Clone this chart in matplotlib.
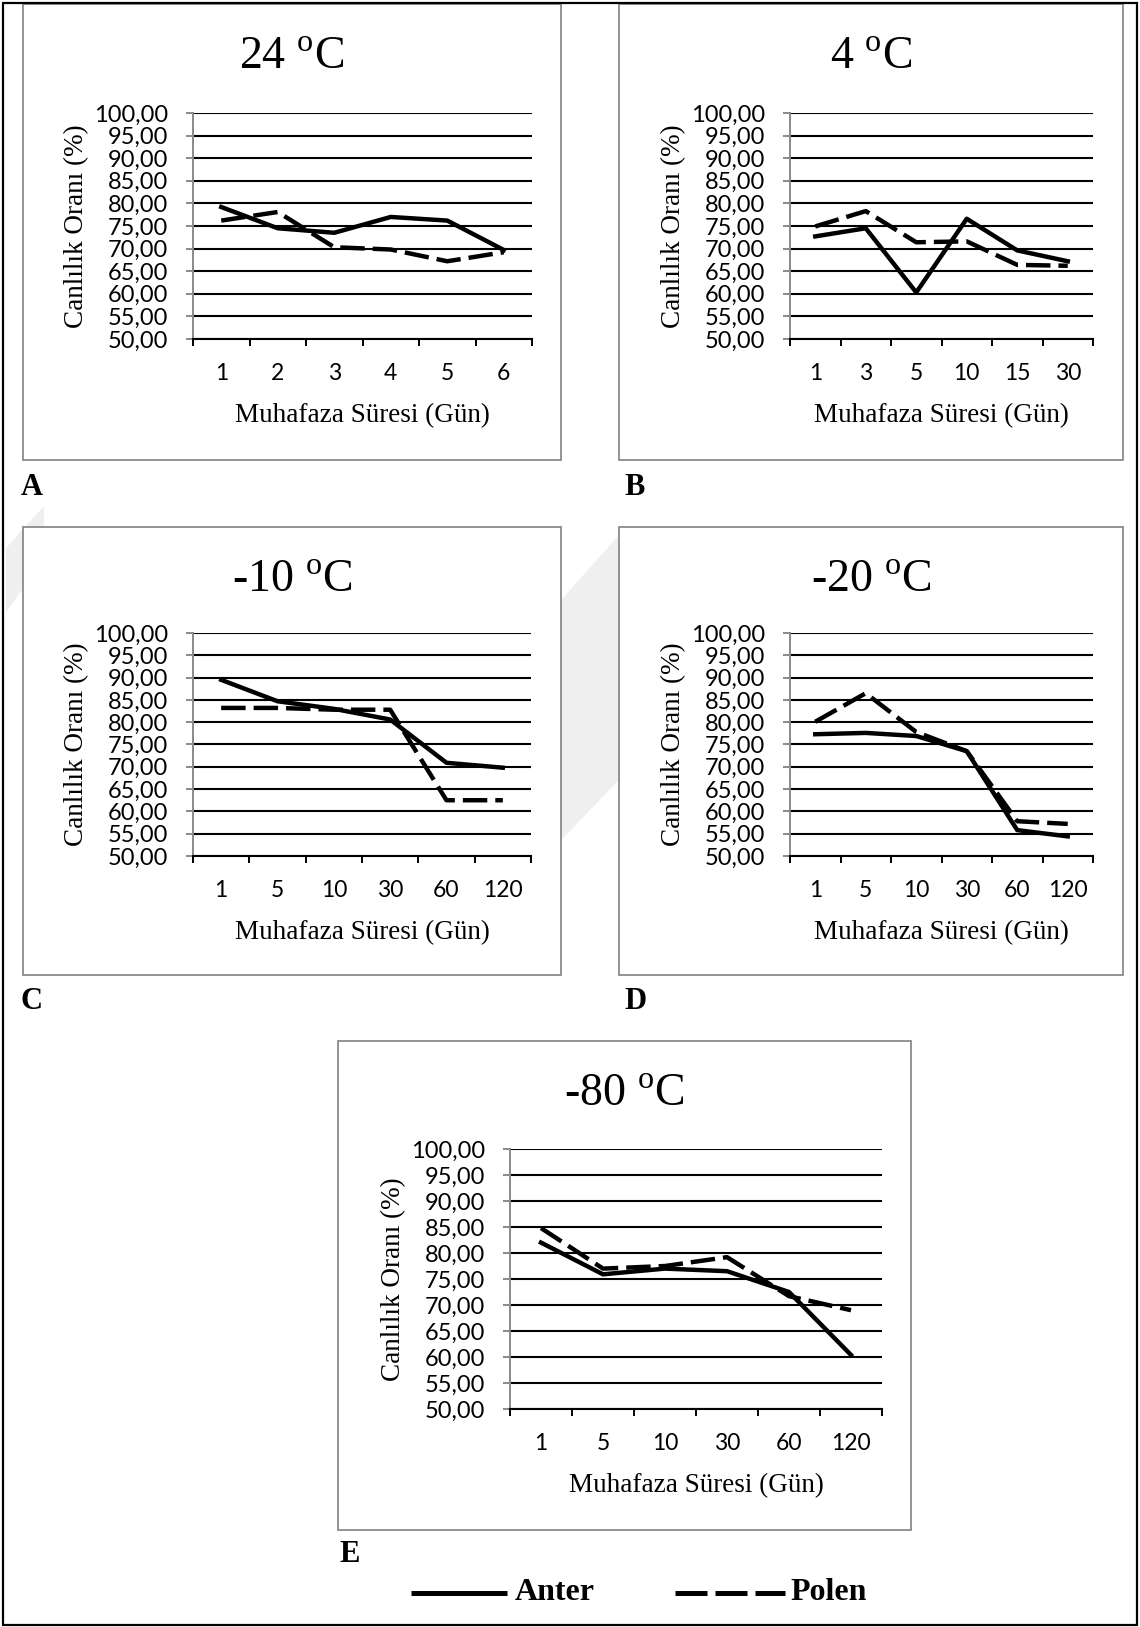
import matplotlib.pyplot as plt
from matplotlib.patches import Rectangle, Polygon

plt.rcParams['font.family'] = ['Lato', 'DejaVu Sans']
plt.rcParams['mathtext.fontset'] = 'custom'
plt.rcParams['mathtext.rm'] = 'Liberation Serif'

SERIF = 'Liberation Serif'

# storage temperature of each panel and the sampling days
temps = ['24', '4', '-10', '-20', '-80']
letters = ['A', 'B', 'C', 'D', 'E']
days_a = ['1', '2', '3', '4', '5', '6']
days_b = ['1', '3', '5', '10', '15', '30']
days_cde = ['1', '5', '10', '30', '60', '120']

# viability (%) of anthers and pollen after storage
anter_a = [79.2, 74.5, 73.5, 77.0, 76.2, 69.7]
polen_a = [76.2, 78.1, 70.3, 69.8, 67.2, 69.2]
anter_b = [72.7, 74.5, 60.3, 76.6, 69.6, 67.2]
polen_b = [74.9, 78.3, 71.4, 71.6, 66.4, 66.2]
anter_c = [89.5, 84.7, 83.0, 80.6, 70.9, 69.8]
polen_c = [83.2, 83.2, 82.8, 82.8, 62.5, 62.5]
anter_d = [77.3, 77.6, 76.9, 73.5, 55.8, 54.4]
polen_d = [80.1, 86.5, 77.8, 73.5, 57.8, 57.2]
anter_e = [82.0, 75.9, 77.0, 76.5, 72.5, 60.4]
polen_e = [84.8, 77.0, 77.5, 79.2, 71.7, 69.0]

y_ticks = list(range(50, 101, 5))
series_names = ['Anter', 'Polen']

W, H = 1140, 1627
BOX_GRAY = '#8a8a8a'
WATERMARK = '#efefef'

# page layout in pixels: panel frame, plot area, letter position
layout = [
    dict(box=(23, 4, 561, 460), plot=(193, 113, 532, 339), letter=(21, 487)),
    dict(box=(619, 4, 1123, 460), plot=(790, 113, 1093, 339), letter=(624, 487)),
    dict(box=(23, 527, 561, 975), plot=(193, 633, 531, 856), letter=(21, 1001)),
    dict(box=(619, 527, 1123, 975), plot=(790, 633, 1093, 856), letter=(624, 1001)),
    dict(box=(338, 1041, 911, 1530), plot=(510, 1149, 882, 1409), letter=(339, 1555)),
]


def px_rect(x0, y0, x1, y1):
    return [x0 / W, 1 - y1 / H, (x1 - x0) / W, (y1 - y0) / H]


def draw_panel(ax, days, anter, polen, plot_px):
    x0, y0, x1, y1 = plot_px
    w_px, h_px = x1 - x0, y1 - y0
    xs = [i + 0.5 for i in range(len(days))]

    ax.plot(xs, anter, color='black', lw=3.2, solid_joinstyle='round', zorder=3)
    ax.plot(xs, polen, color='black', lw=3.2, dashes=(5.5, 1.8), dash_joinstyle='round', zorder=3)

    ax.set_xlim(0, len(days))
    ax.set_ylim(50, 100)
    ax.set_yticks(y_ticks)
    ax.set_yticklabels([f'{v},00' for v in y_ticks])
    ax.set_xticks(range(len(days) + 1))
    ax.set_xticklabels([])
    ax.set_xticks(xs, days, minor=True)

    ax.tick_params(axis='x', which='major', length=5, width=1.4, color='black', direction='out')
    ax.tick_params(axis='x', which='minor', length=0, pad=17, labelsize=16.5)
    ax.tick_params(axis='y', length=5, width=1.4, color=BOX_GRAY, pad=13, labelsize=17)

    ax.set_axisbelow(True)
    ax.grid(axis='y', color='black', lw=1.5)
    for side in ('top', 'right'):
        ax.spines[side].set_visible(False)
    ax.spines['left'].set_color(BOX_GRAY)
    ax.spines['left'].set_linewidth(1.4)
    ax.spines['bottom'].set_color('black')
    ax.spines['bottom'].set_linewidth(1.5)
    ax.patch.set_alpha(0)

    ax.set_xlabel('Muhafaza Süresi (Gün)', fontsize=19.5, family=SERIF)
    ax.xaxis.label.set_va('center')
    ax.xaxis.set_label_coords(0.5, -77 / h_px)
    ax.set_ylabel('Canlılık Oranı (%)', fontsize=19.5, family=SERIF)
    ax.yaxis.label.set_va('center')
    ax.yaxis.set_label_coords(-116 / w_px, 0.5)


def show_plots():
    fig = plt.figure(figsize=(W / 100, H / 100), dpi=100)

    # page layer in pixel coordinates for frames, titles and legend
    page = fig.add_axes([0, 0, 1, 1])
    page.set_xlim(0, W)
    page.set_ylim(H, 0)
    page.axis('off')

    # faint diagonal watermark behind the panel frames
    page.add_patch(Polygon([(6, 548), (44, 506), (44, 560), (6, 612)], closed=True,
                           facecolor=WATERMARK, edgecolor='none', zorder=0))
    page.add_patch(Polygon([(561, 600), (619, 535), (619, 780), (561, 840)], closed=True,
                           facecolor=WATERMARK, edgecolor='none', zorder=0))

    panel_data = [
        (days_a, anter_a, polen_a),
        (days_b, anter_b, polen_b),
        (days_cde, anter_c, polen_c),
        (days_cde, anter_d, polen_d),
        (days_cde, anter_e, polen_e),
    ]

    for temp, letter, spec, (days, anter, polen) in zip(temps, letters, layout, panel_data):
        bx0, by0, bx1, by1 = spec['box']
        page.add_patch(Rectangle((bx0, by0), bx1 - bx0, by1 - by0, facecolor='white',
                                 edgecolor=BOX_GRAY, lw=1.3, zorder=1))
        page.text((bx0 + bx1) / 2, by0 + 65, f'{temp} $^{{\\rm o}}$C', ha='center', va='baseline',
                  fontsize=33, family=SERIF, zorder=2)
        lx, ly = spec['letter']
        page.text(lx, ly, letter, ha='left', va='center', fontsize=22, fontweight='bold', family=SERIF)

        ax = fig.add_axes(px_rect(*spec['plot']))
        draw_panel(ax, days, anter, polen, spec['plot'])

    # legend under the last panel
    page.plot([411, 507], [1593, 1593], color='black', lw=3.6, solid_capstyle='butt')
    page.plot([675, 785], [1593, 1593], color='black', lw=3.6, dashes=(6.4, 1.6), dash_capstyle='butt')
    page.text(515, 1593, series_names[0], ha='left', va='center', fontsize=23, fontweight='bold', family=SERIF)
    page.text(790, 1593, series_names[1], ha='left', va='center', fontsize=23, fontweight='bold', family=SERIF)

    # outer frame of the figure
    page.add_patch(Rectangle((3, 3), W - 6, H - 5, facecolor='none', edgecolor='black', lw=1.6, zorder=10))

    fig.savefig('out.png', dpi=100)


show_plots()
